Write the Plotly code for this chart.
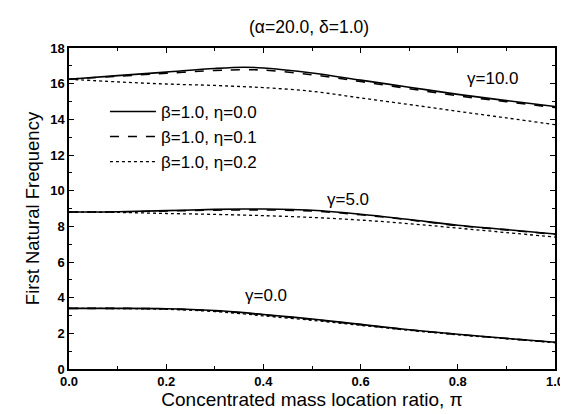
import plotly.graph_objects as go

pi_vals = [0.0, 0.1, 0.2, 0.3, 0.36, 0.4, 0.5, 0.6, 0.7, 0.8, 0.9, 1.0]

# gamma = 10.0
g10_eta00 = [16.25, 16.45, 16.65, 16.85, 16.92, 16.88, 16.6, 16.2, 15.8, 15.4, 15.05, 14.72]
g10_eta01 = [16.25, 16.42, 16.58, 16.74, 16.78, 16.76, 16.5, 16.12, 15.72, 15.32, 14.99, 14.66]
g10_eta02 = [16.25, 16.1, 15.98, 15.9, 15.83, 15.78, 15.57, 15.2, 14.83, 14.45, 14.08, 13.7]
# gamma = 5.0
g5_eta00 = [8.8, 8.82, 8.88, 8.95, 8.97, 8.97, 8.9, 8.68, 8.38, 8.06, 7.82, 7.57]
g5_eta01 = [8.8, 8.81, 8.86, 8.91, 8.92, 8.92, 8.86, 8.65, 8.36, 8.04, 7.8, 7.55]
g5_eta02 = [8.8, 8.78, 8.72, 8.67, 8.63, 8.6, 8.5, 8.35, 8.15, 7.9, 7.65, 7.4]
# gamma = 0.0
g0_eta00 = [3.4, 3.4, 3.38, 3.28, 3.16, 3.06, 2.8, 2.5, 2.2, 1.95, 1.72, 1.5]
g0_eta01 = [3.4, 3.4, 3.37, 3.26, 3.14, 3.04, 2.78, 2.49, 2.19, 1.94, 1.71, 1.49]
g0_eta02 = [3.4, 3.39, 3.35, 3.22, 3.09, 2.98, 2.73, 2.45, 2.17, 1.92, 1.7, 1.48]

legend_names = ["β=1.0, η=0.0", "β=1.0, η=0.1", "β=1.0, η=0.2"]
dashes = ["solid", "dash", "dot"]
groups = [
    [g10_eta00, g10_eta01, g10_eta02],
    [g5_eta00, g5_eta01, g5_eta02],
    [g0_eta00, g0_eta01, g0_eta02],
]
gamma_labels = ["γ=10.0", "γ=5.0", "γ=0.0"]
label_pos = [(0.873, 16.3), (0.574, 9.5), (0.405, 4.1)]

FONT = "Liberation Sans, Arial, sans-serif"

fig = go.Figure()
for gi, grp in enumerate(groups):
    for k, ys in enumerate(grp):
        fig.add_trace(go.Scatter(
            x=pi_vals, y=ys, mode="lines", line_shape="spline",
            line=dict(color="black", width=1.6 if k < 2 else 1.3, dash=dashes[k]),
            name=legend_names[k], legendgroup=legend_names[k],
            showlegend=(gi == 0),
        ))

for txt, (xx, yy) in zip(gamma_labels, label_pos):
    fig.add_annotation(x=xx, y=yy, text=txt, showarrow=False,
                       font=dict(family=FONT, size=17, color="black"))

axis_common = dict(
    showline=True, linecolor="black", linewidth=1.5, mirror="allticks",
    ticks="inside", ticklen=5, tickwidth=1.2, tickcolor="black",
    showgrid=False, zeroline=False,
    tickfont=dict(family=FONT, size=13, color="black", weight="bold"),
)

fig.update_layout(
    width=568, height=414,
    margin=dict(l=61, r=18, t=40, b=53),
    paper_bgcolor="white", plot_bgcolor="white",
    title=dict(text="(α=20.0, δ=1.0)", x=0.53, xanchor="center", y=0.955, yanchor="middle",
               font=dict(family=FONT, size=17.5, color="black")),
    showlegend=True,
    legend=dict(x=0.074, y=0.857, xanchor="left", yanchor="top",
                bgcolor="rgba(0,0,0,0)", font=dict(family=FONT, size=17, color="black"),
                itemwidth=46, tracegroupgap=0),
    xaxis=dict(range=[0, 1], tickvals=[0, 0.2, 0.4, 0.6, 0.8, 1.0],
               ticktext=["0.0", "0.2", "0.4", "0.6", "0.8", "1.0"],
               minor=dict(dtick=0.1, ticks="inside", ticklen=3, tickcolor="black"),
               title=dict(text="Concentrated mass location ratio, π", standoff=4,
                          font=dict(family=FONT, size=19, color="black")),
               **axis_common),
    yaxis=dict(range=[0, 18], tickvals=[0, 2, 4, 6, 8, 10, 12, 14, 16, 18],
               minor=dict(dtick=1, ticks="inside", ticklen=3, tickcolor="black"),
               title=dict(text="First Natural Frequency", standoff=6,
                          font=dict(family=FONT, size=18.5, color="black")),
               **axis_common),
)

fig.write_html("out.html")
